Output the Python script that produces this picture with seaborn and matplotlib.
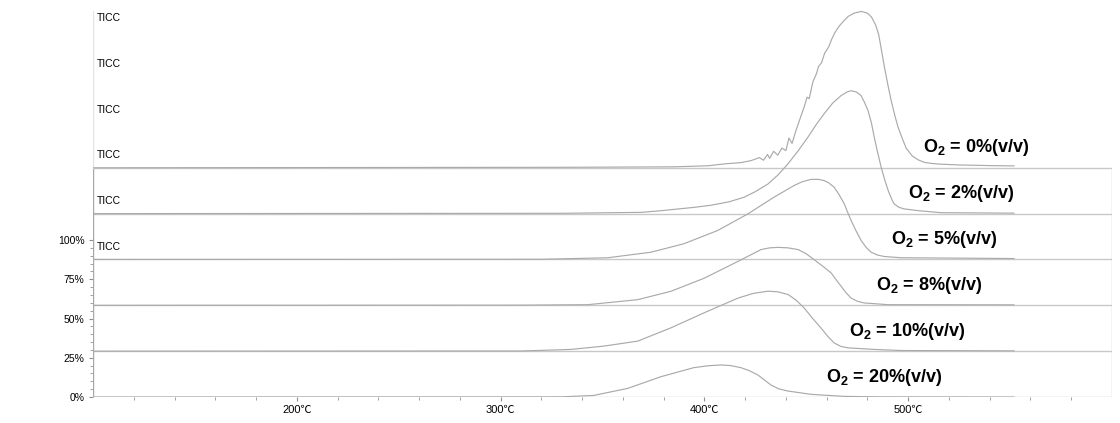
"""Stacked TIC traces for several O2 concentrations."""

import matplotlib
matplotlib.use("Agg")
import matplotlib.pyplot as plt
import seaborn as sns
from matplotlib.ticker import FixedLocator

sns.set_style("white")
plt.rcParams["font.family"] = ["Liberation Sans", "Noto Sans CJK JP", "DejaVu Sans"]
plt.rcParams["mathtext.fontset"] = "custom"
plt.rcParams["mathtext.rm"] = "Liberation Sans"
plt.rcParams["mathtext.bf"] = "Liberation Sans:bold"

# --- data (temperature in deg C, signal in % of full scale) ---
o2_labels = ["0", "2", "5", "8", "10", "20"]

temp_0 = [100, 330, 385, 402, 410, 418, 423, 427, 429, 431, 432, 434, 436, 438, 440,
          441.5, 443, 445, 447.4, 449, 450.4, 451.4, 453.3, 455, 456, 457.5, 459, 461,
          462.5, 464, 466, 468, 470.5, 473.5, 477, 480, 482, 484, 485.5, 487, 488.5,
          490, 491.6, 493.5, 495, 497, 499, 502, 505, 508, 512, 516, 525, 540, 552]
sig_0 = [0, 0.3, 0.6, 1.3, 2.5, 3.3, 4.6, 6.5, 4.8, 8.5, 6.0, 10.5, 8.0, 12.5, 11.0,
         19.0, 15.5, 24, 33, 39, 45, 44, 55, 60, 64.5, 67, 73, 77,
         82, 86, 90, 93, 96.4, 98.5, 99.6, 98.5, 96, 91, 85, 74, 63,
         53, 43, 33, 26, 19, 12.5, 7.5, 5.0, 3.4, 2.7, 2.3, 1.8, 1.4, 1.2]

temp_2 = [100, 330, 369, 379, 395, 403, 412, 419.4, 425, 431.2, 436, 441, 446, 450.9,
          455, 458.7, 463, 467.1, 470, 472, 474.5, 476.9, 478.5, 480.3, 482, 483.3,
          485, 486.7, 488.5, 490.2, 492, 493.1, 495.5, 498, 504.9, 516, 552]
sig_2 = [0, 0.2, 0.8, 1.9, 4.0, 5.3, 7.5, 10.4, 14.0, 18.9, 24.5, 31.7, 40.0, 48.9,
         57.0, 63.5, 70.5, 75.2, 77.5, 78.3, 77.5, 75.2, 71.0, 65.6, 57.5, 48.9,
         39.0, 29.7, 21.5, 14.6, 9.0, 6.2, 4.0, 3.0, 1.9, 0.6, 0.3]

temp_5 = [100, 320, 352.6, 373.7, 389.9, 406.6, 421.4, 434.2, 444, 448, 452.3, 456,
          458.7, 461, 463.6, 466, 468.6, 470.3, 472, 474.5, 476.9, 479.5, 481.8, 485,
          488.2, 496.6, 552]
sig_5 = [0, 0.1, 1.1, 4.6, 10.0, 18.5, 29.1, 39.7, 47.1, 49.5, 51.0, 51.0,
         50.3, 48.8, 46.1, 41.5, 35.5, 30.0, 24.8, 18.0, 12.1, 7.5, 4.6, 2.8,
         1.9, 1.1, 0.6]

temp_8 = [100, 310, 342.8, 367.3, 383.5, 399.8, 416.5, 427.8, 432, 436.1, 441, 446,
          450, 453.8, 458, 462.2, 464.5, 467.1, 469.5, 472, 475, 478.4, 490.2, 552]
sig_8 = [0, 0.1, 0.4, 3.6, 8.9, 17.2, 28.0, 35.5, 36.6, 36.9, 36.6, 35.5,
         32.8, 29.1, 25.0, 20.6, 16.5, 12.1, 8.0, 4.6, 2.6, 1.5, 0.4, 0.3]

temp_10 = [100, 310, 334.4, 350.6, 367.3, 383.5, 399.8, 416.5, 424, 431.2, 436, 441,
           445, 448.9, 453, 457.2, 460.5, 463.6, 467, 470.5, 483.3, 496.6, 552]
sig_10 = [0, 0.1, 1.1, 3.2, 6.4, 14.8, 24.4, 33.8, 36.8, 38.2, 37.8, 36.1,
          32.5, 27.6, 21.0, 14.8, 9.5, 5.3, 3.0, 2.1, 1.1, 0.4, 0.2]

temp_20 = [100, 330, 345.7, 362.4, 378.6, 394.8, 402, 408.1, 413, 417.9, 422, 426.3,
           429.5, 432.7, 436.5, 441, 452.3, 468.6, 485.3, 552]
sig_20 = [0, 0.1, 1.0, 5.5, 12.9, 18.7, 19.9, 20.4, 20.0, 18.7, 16.8, 14.0,
          10.8, 7.6, 5.2, 3.8, 1.7, 0.4, 0.1, 0]

label_x = [507.4, 500, 491.6, 484.3, 471, 459.7]

# top trace first, stacked downwards
traces = [(temp_0, sig_0), (temp_2, sig_2), (temp_5, sig_5),
          (temp_8, sig_8), (temp_10, sig_10), (temp_20, sig_20)]

step = 29.2
n = len(traces)
offsets = [(n - 1 - i) * step for i in range(n)]

fig = plt.figure(figsize=(11.2, 4.23), dpi=100)
ax = fig.add_axes([93 / 1120, 26 / 423, (1112 - 93) / 1120, 397 / 423])
ax.set_xlim(100, 600)
ax.set_ylim(0, 397 / 1.57)
for s in ax.spines.values():
    s.set_visible(False)

top = offsets[0]
# panel frames
for off in offsets:
    ax.plot([100, 600], [off, off], color="#c8c8c8", lw=1.0, zorder=1)
ax.plot([100, 100], [0, top], color="#a8a8a8", lw=1.0, zorder=1)
ax.plot([100, 100], [top, top + 100], color="#e4e4e4", lw=1.0, zorder=1)
ax.plot([600, 600], [0, top], color="#c8c8c8", lw=1.0, zorder=1)

line_color = "#aaaaaa"
for (t, sig), off, lab, lx in zip(traces, offsets, o2_labels, label_x):
    y = [v + off for v in sig]
    sns.lineplot(x=t, y=y, ax=ax, color=line_color, lw=0.85, sort=False, zorder=2)
    ax.text(102, off + 95.5, "TICC", fontsize=7.5, va="center", ha="left", color="black")
    ax.text(lx, off + 12.7, r"O$_\mathbf{2}$ = " + lab + "%(v/v)", fontsize=13,
            fontweight="bold", va="center", ha="left", color="black")

# axes ticks
ax.yaxis.set_major_locator(FixedLocator([0, 25, 50, 75, 100]))
ax.yaxis.set_minor_locator(FixedLocator(list(range(0, 101, 5))))
ax.set_yticklabels(["0%", "25%", "50%", "75%", "100%"])
ax.xaxis.set_major_locator(FixedLocator([200, 300, 400, 500]))
ax.xaxis.set_minor_locator(FixedLocator(list(range(120, 600, 20))))
ax.set_xticklabels(["200℃", "300℃", "400℃", "500℃"])
ax.tick_params(axis="both", which="both", direction="out", color="#909090",
               labelcolor="black")
ax.tick_params(axis="y", labelsize=7.5)
ax.tick_params(axis="x", labelsize=8)
ax.tick_params(axis="both", which="major", length=3, width=0.8, pad=3)
ax.tick_params(axis="both", which="minor", length=2, width=0.6)
ax.tick_params(axis="y", which="both", left=True)
ax.tick_params(axis="x", which="both", bottom=True)
ax.set_xlabel("")
ax.set_ylabel("")

fig.savefig("out.png", dpi=100)
